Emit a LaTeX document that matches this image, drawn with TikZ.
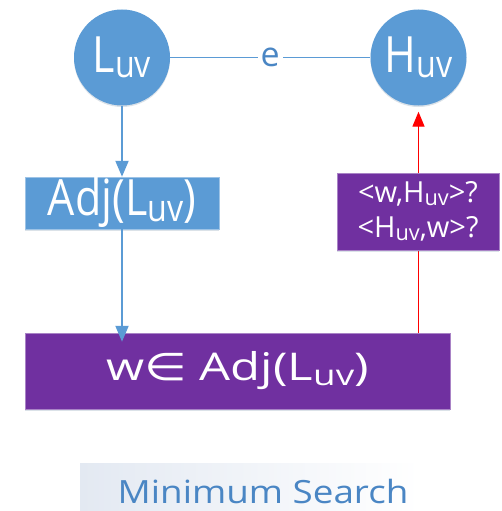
\documentclass[tikz,border=0pt]{standalone}
\usepackage{fontspec}
\usepackage{graphicx}
\setmainfont{Open Sans}
\newfontfamily\symfont{DejaVu Sans}
\usetikzlibrary{arrows.meta,shadows}
\pgfdeclarelayer{back}
\pgfsetlayers{back,main}
\definecolor{nodeblue}{HTML}{5B9BD5}
\definecolor{boxpurple}{HTML}{7030A0}
\definecolor{labelblue}{HTML}{4A86C4}
\definecolor{bandgrey}{HTML}{E3E9F2}
% lowered, reduced index in the node texts
\newcommand{\lowidx}[1]{\raisebox{-0.11em}{\scalebox{0.75}{#1}}}
% narrow setting used for the blue node texts
\newcommand{\narrow}[1]{\scalebox{0.86}[1]{#1}}
\tikzset{
  softshadow/.style={drop shadow={opacity=0.18, fill=nodeblue!60!black,
    shadow xshift=0pt, shadow yshift=-1.5pt}},
  vertex/.style={circle, fill=nodeblue, minimum size=96pt, inner sep=0pt,
    text=white, font=\fontsize{50}{56}\selectfont, softshadow},
  bluebox/.style={rectangle, fill=nodeblue, draw=nodeblue!60, line width=0.5pt,
    minimum width=194pt, minimum height=52pt, inner sep=0pt, text=white, softshadow},
  purplebox/.style={rectangle, fill=boxpurple, draw=boxpurple!60, line width=0.5pt,
    inner sep=0pt, text=white, align=center, softshadow},
  blueflow/.style={draw=nodeblue, line width=2pt,
    -{Triangle[width=13pt,length=16pt]}},
  redflow/.style={draw=red, line width=1.4pt,
    -{Triangle[width=12pt,length=15pt]}},
}
\begin{document}
\begin{tikzpicture}[x=1pt,y=-1pt]
  \useasboundingbox (0,0) rectangle (502,511);

  % caption band
  \shade[left color=bandgrey, right color=white] (80,463) rectangle (420,511);
  \node[text=labelblue, font=\fontsize{32}{36}\selectfont, anchor=base, inner sep=0pt]
    (caption) at (263,503) {\scalebox{1.15}[1]{Minimum Search}};

  % the two end vertices of edge e
  \node[vertex] (L) at (122,57.5) {\narrow{L\lowidx{uv}}};
  \node[vertex] (H) at (418.5,57.5) {\narrow{H\lowidx{uv}}};
  \draw[draw=nodeblue, line width=1.8pt] (L) --
    node[fill=white, inner sep=3pt, text=labelblue,
         font=\fontsize{34}{38}\selectfont] (e) {e} (H);

  % adjacency list box
  \node[bluebox, font=\fontsize{50}{56}\selectfont] (adj) at (122,203)
    {\narrow{Adj(L\lowidx{uv})}};

  % scan over the neighbours
  \node[purplebox, minimum width=425pt, minimum height=76pt,
        font=\fontsize{49}{56}\selectfont] (scan) at (237.5,371)
    {\scalebox{1}[0.78]{w{\symfont ∈} Adj(L\lowidx{uv})}};

  % edge test
  \node[purplebox, minimum width=162pt, minimum height=77pt,
        font=\fontsize{29}{35}\selectfont] (test) at (418,211.5)
    {<w,H\lowidx{uv}>?\\<H\lowidx{uv},w>?};

  % connectors
  \draw[blueflow] (L) -- (adj);
  \draw[blueflow, shorten >=-9pt] (adj) -- (scan.north -| adj);
  % the red check line passes behind the edge test box
  \begin{pgfonlayer}{back}
    \draw[redflow, shorten >=6pt] (scan.north -| H) -- (H);
  \end{pgfonlayer}
\end{tikzpicture}
\end{document}
